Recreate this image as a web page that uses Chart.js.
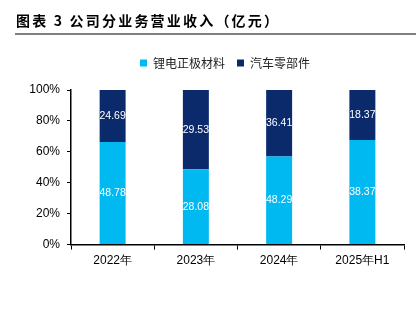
<!DOCTYPE html>
<html>
<head>
<meta charset="utf-8">
<script src="https://cdn.jsdelivr.net/npm/chart.js@4"></script>
<style>
  html,body{margin:0;padding:0;background:#fff;}
  #wrap{position:relative;width:416px;height:327px;overflow:hidden;}
  #title{position:absolute;left:16px;top:10px;font:bold 14px "Noto Sans CJK SC",sans-serif;letter-spacing:2.2px;color:#000;white-space:nowrap;line-height:20px;}
  #rule{position:absolute;left:15px;right:0;top:33px;height:2px;background:#7f7f7f;}
  #c{position:absolute;left:0;top:0;}
</style>
</head>
<body>
<div id="wrap">
  <canvas id="c" width="416" height="327"></canvas>
  <div id="title">图表 3 公司分业务营业收入（亿元）</div>
  <div id="rule"></div>
</div>
<script>
const categories = ['2022年', '2023年', '2024年', '2025年H1'];
const seriesNames = ['锂电正极材料', '汽车零部件'];
const cathodeRevenue = [48.78, 28.08, 48.29, 38.37];
const autoPartsRevenue = [24.69, 29.53, 36.41, 18.37];
const yTickLabels = ['0%', '20%', '40%', '60%', '80%', '100%'];

const totals = categories.map((_, i) => cathodeRevenue[i] + autoPartsRevenue[i]);
const cathodePct = cathodeRevenue.map((v, i) => v / totals[i] * 100);
const autoPct = autoPartsRevenue.map((v, i) => v / totals[i] * 100);

const labelPlugin = {
  id: 'segLabels',
  afterDatasetsDraw(chart) {
    const ctx = chart.ctx;
    ctx.save();
    ctx.fillStyle = '#ffffff';
    ctx.font = '10.5px "Liberation Sans", Arial, sans-serif';
    ctx.textAlign = 'center';
    ctx.textBaseline = 'middle';
    chart.data.datasets.forEach((ds, di) => {
      const meta = chart.getDatasetMeta(di);
      meta.data.forEach((bar, i) => {
        const raw = ds.rawValues[i];
        const yMid = (bar.y + bar.base) / 2;
        ctx.fillText(raw.toFixed(2), bar.x, yMid);
      });
    });
    ctx.restore();
  }
};

const legendTweak = {
  id: 'legendTweak',
  beforeLayout(chart) {
    const lg = chart.legend;
    if (lg && !lg._patched) {
      const orig = lg.fit;
      lg.fit = function () { orig.call(this); this.height += 11; };
      lg._patched = true;
    }
  },
  afterLayout(chart) {
    const lg = chart.legend;
    if (lg) { lg.left += 23; lg.right += 23; }
  }
};

new Chart(document.getElementById('c'), {
  type: 'bar',
  data: {
    labels: categories,
    datasets: [
      { label: seriesNames[0], data: cathodePct, rawValues: cathodeRevenue, backgroundColor: '#00B9F1', borderWidth: 0 },
      { label: seriesNames[1], data: autoPct, rawValues: autoPartsRevenue, backgroundColor: '#0A2A6C', borderWidth: 0 }
    ]
  },
  options: {
    responsive: false,
    animation: false,
    events: [],
    layout: { padding: { left: 0, right: 12, top: 45, bottom: 55 } },
    datasets: { bar: { categoryPercentage: 1, barPercentage: 0.312 } },
    plugins: {
      tooltip: { enabled: false },
      title: { display: false },
      legend: {
        display: true,
        position: 'top',
        labels: {
          boxWidth: 7, boxHeight: 7, padding: 12,
          color: '#222',
          font: { family: '"Noto Sans CJK SC", sans-serif', size: 12 }
        }
      }
    },
    scales: {
      x: {
        stacked: true,
        offset: true,
        grid: { display: true, drawOnChartArea: false, offset: true, tickLength: 5, color: '#000', tickWidth: 1 },
        border: { display: true, color: '#000', width: 1.5 },
        ticks: { color: '#000', padding: 4, font: { family: '"Liberation Sans", Arial, sans-serif', size: 12 }, maxRotation: 0 }
      },
      y: {
        stacked: true,
        min: 0, max: 100,
        afterFit(axis) { axis.width = 71; },
        grid: { display: true, drawOnChartArea: false, tickLength: 4, color: '#000' },
        border: { display: true, color: '#000', width: 1.5 },
        ticks: {
          stepSize: 20, padding: 7, color: '#000',
          font: { family: '"Liberation Sans", Arial, sans-serif', size: 12 },
          callback: (v) => yTickLabels[Math.round(v / 20)]
        }
      }
    }
  },
  plugins: [labelPlugin, legendTweak]
});
</script>
</body>
</html>
